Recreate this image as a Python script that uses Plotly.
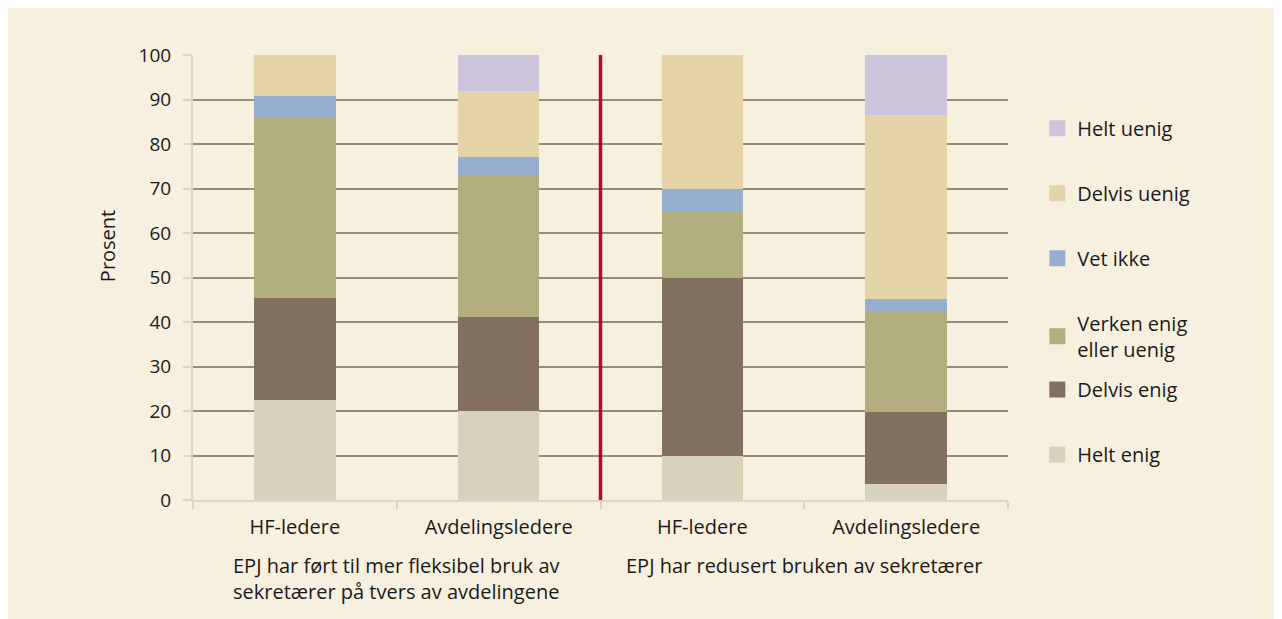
import plotly.graph_objects as go

categories = ["g1_hf", "g1_avd", "g2_hf", "g2_avd"]
tick_labels = ["HF-ledere", "Avdelingsledere", "HF-ledere", "Avdelingsledere"]
group_labels = ["EPJ har ført til mer fleksibel bruk av<br>sekretærer på tvers av avdelingene",
                "EPJ har redusert bruken av sekretærer"]

helt_enig = [22.5, 20.0, 10.0, 3.6]
delvis_enig = [22.9, 21.1, 40.0, 16.2]
verken = [40.7, 31.9, 15.0, 22.7]
vet_ikke = [4.7, 4.1, 5.0, 2.7]
delvis_uenig = [9.2, 14.8, 30.0, 41.3]
helt_uenig = [0.0, 8.1, 0.0, 13.5]

series = [
    ("Helt enig", helt_enig, "#D9D2BA"),
    ("Delvis enig", delvis_enig, "#83715F"),
    ("Verken enig<br>eller uenig", verken, "#B3AE7F"),
    ("Vet ikke", vet_ikke, "#97AFCF"),
    ("Delvis uenig", delvis_uenig, "#E5D4A7"),
    ("Helt uenig", helt_uenig, "#CCC4DD"),
]

bg = "#F7F0DE"
red = "#B5083A"
axcol = "#DDD5BF"
font = "Open Sans"

fig = go.Figure()
for name, vals, col in series:
    fig.add_trace(go.Bar(x=categories, y=vals, name=name, marker_color=col,
                         marker_line_width=0, showlegend=False))

# legend entries (top to bottom: Helt uenig ... Helt enig); the two bottom ones
# sit in a second legend so the two-line label doesn't push them down
for i, (name, vals, col) in enumerate(series):
    fig.add_trace(go.Scatter(x=[None], y=[None], mode="markers", name=name,
                             marker=dict(symbol="square", size=23, color=col),
                             legendgroup=name, legendrank=len(series) - i,
                             legend="legend2" if i < 2 else "legend"))

leg = dict(xanchor="left", yanchor="top", traceorder="grouped", tracegroupgap=36,
           itemsizing="trace", bgcolor="rgba(0,0,0,0)", font=dict(size=20))

fig.update_layout(
    barmode="stack",
    bargap=0.6,
    width=1274, height=611,
    margin=dict(l=185, r=274, t=47, b=119),
    paper_bgcolor=bg,
    plot_bgcolor=bg,
    font=dict(family=font, size=20, color="#1a1a1a"),
    showlegend=True,
    legend=dict(x=1.036, y=0.879, **leg),
    legend2=dict(x=1.036, y=0.292, **leg),
)

fig.update_xaxes(type="category", tickmode="array", tickvals=categories, ticktext=tick_labels,
                 tickson="boundaries", ticks="outside", ticklen=7, tickwidth=2,
                 tickcolor=axcol, showline=True, linecolor=axcol, linewidth=2,
                 showgrid=False, ticklabelstandoff=8)
fig.update_yaxes(range=[0, 100], dtick=10, ticks="outside", ticklen=8, tickwidth=2,
                 tickcolor=axcol, showline=True, linecolor=axcol, linewidth=2,
                 showgrid=True, gridcolor="#9A8A7A", gridwidth=1.5, zeroline=False,
                 tickfont=dict(size=19), ticklabelstandoff=8)

fig.add_annotation(text="Prosent", textangle=-90, x=-0.104, y=0.571, xref="paper", yref="paper",
                   showarrow=False, xanchor="center", yanchor="middle", font=dict(size=20))

# divider between the two statements
fig.add_shape(type="line", xref="x", yref="y", x0=1.5, x1=1.5, y0=0, y1=100,
              line=dict(color=red, width=3.5))

for i, txt in enumerate(group_labels):
    fig.add_annotation(x=0.5 + 2 * i, y=-0.113, xref="x", yref="paper", text=txt,
                       showarrow=False, xanchor="center", yanchor="top", align="left",
                       font=dict(size=20))

fig.write_html("out.html")
